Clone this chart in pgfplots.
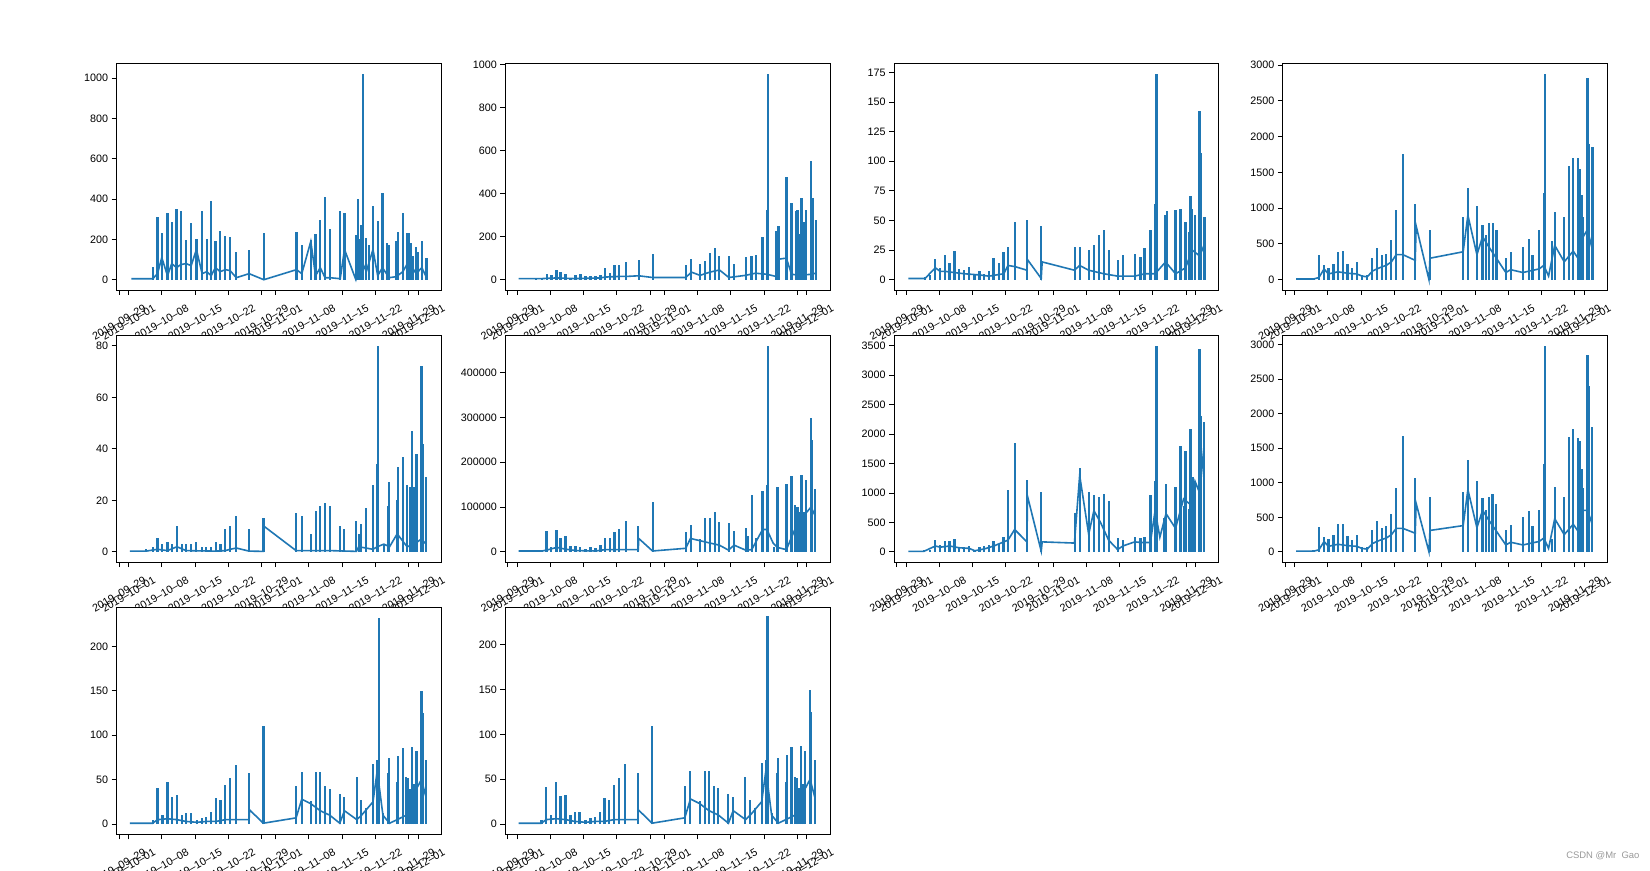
\documentclass[border=0pt]{standalone}
\usepackage{fontspec}
\setmainfont{Liberation Sans}
\usepackage{pgfplots}
\usepackage{pgfplotstable}
\pgfplotsset{compat=1.18}
\definecolor{c0}{HTML}{1F77B4}

% ---------- subplot 1 ----------
\pgfplotstableread{
x y
7.1 65
8.1 310
9.0 230
10.2 330
11.1 285
12.1 352
13.0 342
14.1 195
15.2 280
16.3 200
17.5 340
18.5 200
19.4 390
20.3 190
21.3 240
22.4 215
23.4 210
24.7 140
27.4 145
30.5 230
37.4 235
38.5 170
40.4 195
41.4 225
42.4 295
43.4 410
44.4 250
46.6 340
47.5 330
50.0 220
50.3 300
50.4 400
50.8 200
51.0 270
51.4 1022
52.1 205
52.7 170
53.5 365
54.5 290
55.5 430
56.5 180
56.9 170
58.4 190
58.8 235
59.8 330
60.7 230
61.0 230
61.5 180
62.0 120
62.6 160
63.0 140
63.8 190
64.8 110
}\spA
\pgfplotstableread{
x y
2.6 5
7.1 5
8.1 30
9.0 110
10.2 20
11.1 80
12.1 60
13.0 75
14.1 80
15.2 70
16.3 150
17.5 30
18.5 40
19.4 20
20.3 60
21.3 40
22.4 50
23.4 45
24.7 10
27.4 30
30.5 0
37.4 50
38.5 30
40.4 190
41.4 20
42.4 60
43.4 10
44.4 10
46.6 5
47.5 150
49.9 0
51.0 100
52.1 40
53.5 150
54.5 20
55.5 60
56.9 10
58.4 15
59.8 40
61.0 90
62.6 30
63.8 60
64.8 10
}\baA
% ---------- subplot 2 ----------
\pgfplotstableread{
x y
5.9 5
7.24 10
8.30 28
9.21 20
10.27 45
11.11 35
12.17 25
13.22 10
14.28 20
15.33 25
16.39 15
17.44 15
18.50 15
19.55 20
20.46 54
21.52 30
22.50 70
23.49 66
24.96 80
27.64 90
30.52 120
37.55 66
38.68 97
40.51 75
41.49 85
42.62 124
43.60 147
44.59 110
46.63 110
47.68 75
50.14 105
51.34 110
52.25 115
53.66 200
54.57 325
54.85 957
56.47 225
57.03 247
58.72 479
59.77 357
60.69 320
61.04 325
61.60 210
61.88 379
62.31 270
62.59 240
62.87 325
63.85 552
64.21 380
64.91 278
}\spB
\pgfplotstableread{
x y
2.3 5
5.9 5
7.2 5
10.3 8
14 5
19.5 8
20.5 12
23.5 15
25 15
27.6 18
30.5 10
37.5 10
38.7 35
40.5 20
42.6 35
44.6 45
46.6 10
50.1 20
52.2 30
54.6 25
56.5 15
57.0 95
58.7 100
59.8 25
61.6 20
63.9 25
64.9 30
}\baB
% ---------- subplot 3 ----------
\pgfplotstableread{
x y
6.05 2
7.10 4
8.16 17.7
9.21 10
10.27 21
11.18 14
12.24 24
13.22 9
14.28 8
15.26 11
16.46 5
17.51 7
18.50 5
19.48 7
20.46 18
21.52 14
22.57 23
23.49 28
24.96 49
27.50 50
30.52 45
37.55 28
38.61 28
40.51 25
41.70 29
42.62 38
43.67 42
44.73 25
46.62 17
47.75 21
50.21 22
51.41 19
52.25 27
53.52 42
54.50 64
54.78 174
56.68 55
57.03 58
58.79 59
59.85 60
60.90 49
61.60 40
61.95 71
62.31 60
62.87 55
63.85 142
64.06 107
64.91 53
}\spC
\pgfplotstableread{
x y
2.5 1
6.0 1
8.2 10
9.2 7
10.3 7
12.2 6
14.3 5
17.5 4
19.5 3
22.6 5
23.5 12
25.0 11
27.5 8
27.6 17
30.5 1
30.7 15
37.5 8
38.6 12
40.5 8
43.7 5
46.6 3
50.2 3
52.3 5
54.5 5
56.7 15
58.8 5
60.9 10
62.3 25
63.9 20
64.9 30
}\baC
% ---------- subplot 4 ----------
\pgfplotstableread{
x y
5.98 30
7.10 350
8.16 210
9.14 170
10.20 220
11.11 390
12.17 400
13.15 215
14.14 160
15.12 245
16.24 70
17.30 70
18.35 310
19.34 440
20.39 350
21.31 360
22.36 550
23.42 970
24.82 1750
27.43 1060
30.45 700
37.48 870
38.54 1280
40.44 1030
41.56 770
42.27 630
42.97 790
43.81 790
44.52 700
46.48 310
47.54 380
50.14 460
51.41 570
52.11 340
53.52 700
54.50 1210
54.78 2880
56.19 540
56.82 940
58.79 880
59.77 1590
60.69 1700
61.74 1700
62.10 1550
62.45 1190
62.80 880
63.71 2820
64.06 1900
64.77 1850
}\spD
\pgfplotstableread{
x y
2.3 10
6.0 10
7.1 30
8.2 150
9.1 80
11.1 110
13.2 90
15.1 80
16.2 50
17.3 40
18.4 120
19.3 150
20.4 180
21.3 200
22.4 250
23.4 350
24.8 350
27.4 270
27.6 750
30.3 0
30.5 300
37.5 390
38.5 900
40.4 350
41.6 600
43.0 450
44.5 300
46.5 100
47.5 140
50.1 100
51.4 120
53.5 150
54.5 200
55.5 50
56.8 480
58.8 250
60.7 400
61.7 300
62.8 600
63.7 700
64.8 400
}\baD
% ---------- subplot 5 ----------
\pgfplotstableread{
x y
5.70 1.2
7.10 2
8.09 5.4
9.00 3
10.20 4
11.18 3
12.17 10
13.22 3
14.14 3
15.12 3
16.24 4
17.44 2
18.35 2
19.41 2
20.39 4
21.38 3
22.36 9
23.42 10
24.68 14
27.43 9
30.45 13
37.34 15
38.47 14
40.44 7
41.42 16
42.41 18
43.46 19
44.37 18
46.48 10
47.47 9
50.00 12
50.49 7
51.05 11
52.11 17
53.45 26
54.36 34
54.64 80
55.77 3
56.68 18
56.96 27
58.58 20
58.79 33
59.77 37
60.69 26
61.39 25
61.74 47
62.24 25
62.66 38
63.71 72
63.92 42
64.70 29
}\spE
\pgfplotstableread{
x y
2.3 0.3
5.7 0.3
8.1 1
10.2 0.5
12.2 2
14.1 0.5
20.4 0.3
22.4 0.5
23.4 1
24.7 1.5
27.4 0.3
30.4 0.2
30.5 10
37.3 0.5
40.4 0.5
44.4 0.5
50.0 0.2
50.5 2
53.5 1
54.4 2
55.8 3
57.0 2
58.6 7
60.7 2
62.2 3
63.7 5
64.7 3
}\baE
% ---------- subplot 6 ----------
\pgfplotstableread{
x y
7.24 3000
8.16 46000
9.14 12000
10.27 48000
11.11 32000
12.17 35000
13.22 14000
14.28 13000
15.19 12000
16.39 6000
17.44 10000
18.50 9000
19.55 15000
20.46 30000
21.52 32000
22.50 45000
23.49 52000
24.89 70000
27.50 58000
30.52 112000
37.55 45000
38.54 60000
40.51 28000
41.56 76000
42.55 75000
43.60 88000
44.59 67000
46.55 65000
47.68 47000
50.14 53000
50.70 35000
51.41 128000
52.25 30000
53.66 135000
54.57 150000
54.85 460000
56.12 10000
56.82 145000
58.72 152000
59.77 170000
60.55 105000
61.04 100000
61.60 90000
61.88 172000
62.31 90000
62.87 160000
63.85 298000
64.06 250000
64.77 140000
}\spF
\pgfplotstableread{
x y
2.3 2000
7.2 2000
8.2 4000
10.3 10000
12.2 6000
14.3 3000
18.5 2000
20.5 5000
24.9 5000
27.5 5000
27.6 30000
30.5 2000
37.5 8000
38.5 30000
40.5 25000
42.5 20000
44.6 15000
46.5 4000
47.7 15000
50.1 4000
51.4 5000
53.7 50000
54.6 50000
55.9 20000
56.8 10000
58.7 5000
60.5 50000
62.3 80000
63.9 100000
64.8 80000
}\baF
% ---------- subplot 7 ----------
\pgfplotstableread{
x y
5.84 30
7.10 40
8.16 209
9.21 120
10.27 190
11.18 180
12.24 225
13.22 90
14.28 80
15.26 100
16.46 40
17.51 80
18.50 100
19.48 110
20.46 190
21.52 140
22.57 250
23.49 1056
24.89 1850
27.50 1220
30.52 1010
37.55 660
38.61 1420
40.51 1020
41.56 960
42.62 940
43.67 980
44.73 860
46.62 240
47.75 210
50.21 260
51.41 230
52.25 250
53.52 970
54.50 1210
54.78 3500
56.33 580
56.82 1150
58.79 1100
59.85 1790
60.55 780
60.90 1720
61.60 730
61.95 2090
62.52 1270
62.87 1180
63.85 3450
64.06 2300
64.77 2210
}\spG
\pgfplotstableread{
x y
2.5 10
5.8 10
8.2 100
9.2 80
11.2 100
13.2 70
15.3 60
16.5 20
18.5 50
20.5 100
22.6 170
23.5 200
24.9 380
27.5 170
27.6 950
30.5 10
30.7 170
37.5 150
38.6 1300
40.5 300
41.6 700
43.0 500
44.7 200
46.6 40
47.7 100
50.2 170
51.4 160
53.5 160
54.5 700
55.5 250
56.8 650
58.8 400
60.5 900
62.0 800
62.9 1200
63.9 1000
64.8 1800
}\baG
% ---------- subplot 8 ----------
\pgfplotstableread{
x y
5.98 30
7.10 360
8.16 220
9.14 180
10.20 240
11.11 400
12.17 400
13.15 230
14.14 170
15.12 240
16.24 70
17.30 70
18.35 320
19.34 450
20.39 350
21.31 370
22.36 550
23.42 920
24.82 1670
27.43 1070
30.45 790
37.48 870
38.54 1330
40.44 1030
41.56 780
42.27 600
42.97 790
43.67 840
44.37 690
46.48 310
47.54 390
50.14 500
51.41 590
52.11 370
53.52 600
54.50 1270
54.78 2980
56.19 180
56.82 940
58.79 790
59.77 1660
60.69 1770
61.74 1650
62.10 1600
62.45 1200
62.80 930
63.71 2840
64.06 2400
64.70 1810
}\spH
\pgfplotstableread{
x y
2.3 10
6.0 10
7.1 30
8.2 150
9.1 80
11.1 110
13.2 90
15.1 80
16.2 50
17.3 40
18.4 120
19.3 150
20.4 180
21.3 200
22.4 250
23.4 340
24.8 340
27.4 270
27.6 700
30.3 0
30.5 310
37.5 380
38.5 900
40.4 350
41.6 600
43.0 450
44.5 300
46.5 100
47.5 140
50.1 100
51.4 120
53.5 150
54.5 200
55.5 50
56.8 480
58.8 250
60.7 400
61.7 300
62.8 600
63.7 600
64.7 400
}\baH
% ---------- subplots 9 and 10 ----------
\pgfplotstableread{
x y
7.10 5
8.09 41
9.14 10
10.20 47
11.11 31
12.17 33
13.22 10
14.14 13
15.12 13
16.39 5
17.44 7
18.35 8
19.41 14
20.39 29
21.38 27
22.36 44
23.42 52
24.68 67
27.43 57
30.45 110
37.34 43
38.47 59
40.44 26
41.49 59
42.41 59
43.46 43
44.37 40
46.48 34
47.47 30
50.07 53
51.05 27
52.04 18
53.52 68
54.36 72
54.71 232
55.63 12
56.68 57
56.96 74
58.58 47
58.79 77
59.77 86
60.48 53
60.90 52
61.25 40
61.74 87
62.24 45
62.66 82
63.71 150
63.92 125
64.70 72
}\spI
\pgfplotstableread{
x y
2.3 1
7.1 1
8.1 5
10.2 6
12.2 5
14.1 3
16.4 2
18.4 3
20.4 3
22.4 5
27.4 5
27.5 16
30.4 1
37.3 7
38.5 28
40.4 23
42.4 15
44.4 10
46.5 1
47.5 15
50.1 5
51.1 10
53.5 25
54.4 60
55.6 10
57.0 1
58.6 5
60.5 10
61.7 30
63.7 50
64.7 30
}\baI

\pgfplotsset{
  sub/.style={
    scale only axis, width=324.6bp, height=226.7bp,
    anchor=south west,
    xmin=-0.5, xmax=67.9,
    axis background/.style={fill=white},
    axis line style={line width=0.9bp, black},
    tick align=outside, tick pos=left,
    major tick length=5bp,
    every tick/.style={black, line width=0.9bp},
    xtick={0,2,9,16,23,30,33,40,47,54,61,63},
    xticklabels={2019–09–29,2019–10–01,2019–10–08,2019–10–15,2019–10–22,2019–10–29,2019–11–01,2019–11–08,2019–11–15,2019–11–22,2019–11–29,2019–12–01},
    ticklabel style={font=\fontsize{10.8}{13}\selectfont},
    xticklabel style={anchor=center, yshift=-27bp, rotate=30},
    scaled y ticks=false,
    /pgf/number format/.cd, fixed, 1000 sep={}, assume math mode=true,
  },
  sp/.style={ycomb, c0, line width=2.2bp, no marks},
  bl/.style={c0, line width=1.6bp, no marks},
}

\begin{document}
\begin{tikzpicture}
\path[use as bounding box] (0,0) rectangle (1650bp,871bp);
% row 1
\begin{axis}[sub, at={(116.7bp,581bp)}, ymin=-51, ymax=1074, ytick={0,200,...,1000}]
\addplot[sp] table {\spA};
\addplot[bl] table {\baA};
\end{axis}
\begin{axis}[sub, at={(505.4bp,581bp)}, ymin=-48, ymax=1005, ytick={0,200,...,1000}]
\addplot[sp] table {\spB};
\addplot[bl] table {\baB};
\end{axis}
\begin{axis}[sub, at={(894.1bp,581bp)}, ymin=-8.7, ymax=182.7, ytick={0,25,...,175}]
\addplot[sp] table {\spC};
\addplot[bl] table {\baC};
\end{axis}
\begin{axis}[sub, at={(1282.8bp,581bp)}, ymin=-144, ymax=3024, ytick={0,500,...,3000}]
\addplot[sp] table {\spD};
\addplot[bl] table {\baD};
\end{axis}
% row 2
\begin{axis}[sub, at={(116.7bp,308.8bp)}, ymin=-4, ymax=84, ytick={0,20,...,80}]
\addplot[sp] table {\spE};
\addplot[bl] table {\baE};
\end{axis}
\begin{axis}[sub, at={(505.4bp,308.8bp)}, ymin=-23000, ymax=483000, ytick={0,100000,200000,300000,400000}]
\addplot[sp] table {\spF};
\addplot[bl] table {\baF};
\end{axis}
\begin{axis}[sub, at={(894.1bp,308.8bp)}, ymin=-175, ymax=3675, ytick={0,500,...,3500}]
\addplot[sp] table {\spG};
\addplot[bl] table {\baG};
\end{axis}
\begin{axis}[sub, at={(1282.8bp,308.8bp)}, ymin=-149, ymax=3129, ytick={0,500,...,3000}]
\addplot[sp] table {\spH};
\addplot[bl] table {\baH};
\end{axis}
% row 3
\begin{axis}[sub, at={(116.7bp,36.6bp)}, ymin=-11.6, ymax=243.6, ytick={0,50,...,200}]
\addplot[sp] table {\spI};
\addplot[bl] table {\baI};
\end{axis}
\begin{axis}[sub, at={(505.4bp,36.6bp)}, ymin=-11.5, ymax=241.5, ytick={0,50,...,200}]
\addplot[sp] table {\spI};
\addplot[bl] table {\baI};
\end{axis}
\node[anchor=east, text=black!40, font=\fontsize{9.5}{11}\selectfont] at (1643bp,15bp) {CSDN @Mr\ \ Gao};
\end{tikzpicture}
\end{document}
